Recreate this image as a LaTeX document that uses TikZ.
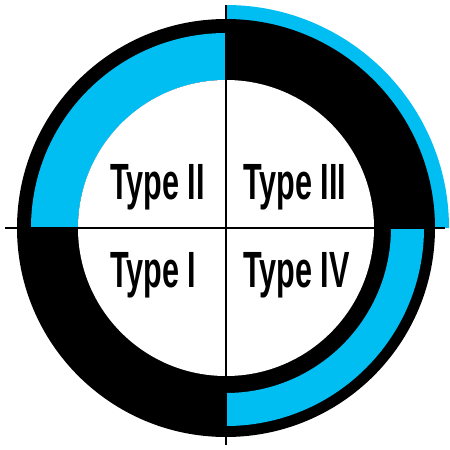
\documentclass[tikz,border=0pt]{standalone}
\usepackage{fontspec}
\setmainfont{Liberation Sans}
\usetikzlibrary{positioning}
\definecolor{skyband}{RGB}{0,190,242}

\begin{document}
\begin{tikzpicture}[
            band/.style={fill=skyband},
            ring/.style={fill=black},
            axis/.style={draw=black, line width=1.1pt},
            typelabel/.style={font=\bfseries\fontsize{29}{32}\selectfont, xscale=0.6, inner sep=0pt, anchor=base west}
        ]
            \useasboundingbox (-4.52,-4.44) rectangle (4.48,4.56);

            % --- outer cyan arc (Type III) ---
            \fill[band] (0,4.46) arc[start angle=90, end angle=0, radius=4.46] -- (0,0) -- cycle;

            % --- black ring ---
            \fill[ring] (0,0) circle (4.18);

            % --- cyan bands ---
            \fill[band] (90:3.9) arc[start angle=90, end angle=180, radius=3.9]
                -- (180:2.96) arc[start angle=180, end angle=90, radius=2.96] -- cycle;
            \fill[band] (270:3.96) arc[start angle=270, end angle=360, radius=3.96]
                -- (0:3.3) arc[start angle=360, end angle=270, radius=3.3] -- cycle;

            % --- inner white disc ---
            \fill[white] (0,0) circle (2.96);

            % --- axes ---
            \coordinate (west) at (-4.42,0);
            \coordinate (east) at (4.38,0);
            \coordinate (north) at (0,4.46);
            \coordinate (south) at (0,-4.34);
            \draw[axis] (west) -- (east);
            \draw[axis] (north) -- (south);

            % --- labels ---
            \node[typelabel] (typeII) at (-2.32,0.58) {Type II};
            \node[typelabel] (typeIII) at (0.34,0.58) {Type III};
            \node[typelabel] (typeI) at (-2.32,-1.18) {Type I};
            \node[typelabel] (typeIV) at (0.34,-1.18) {Type IV};
        \end{tikzpicture}
\end{document}
